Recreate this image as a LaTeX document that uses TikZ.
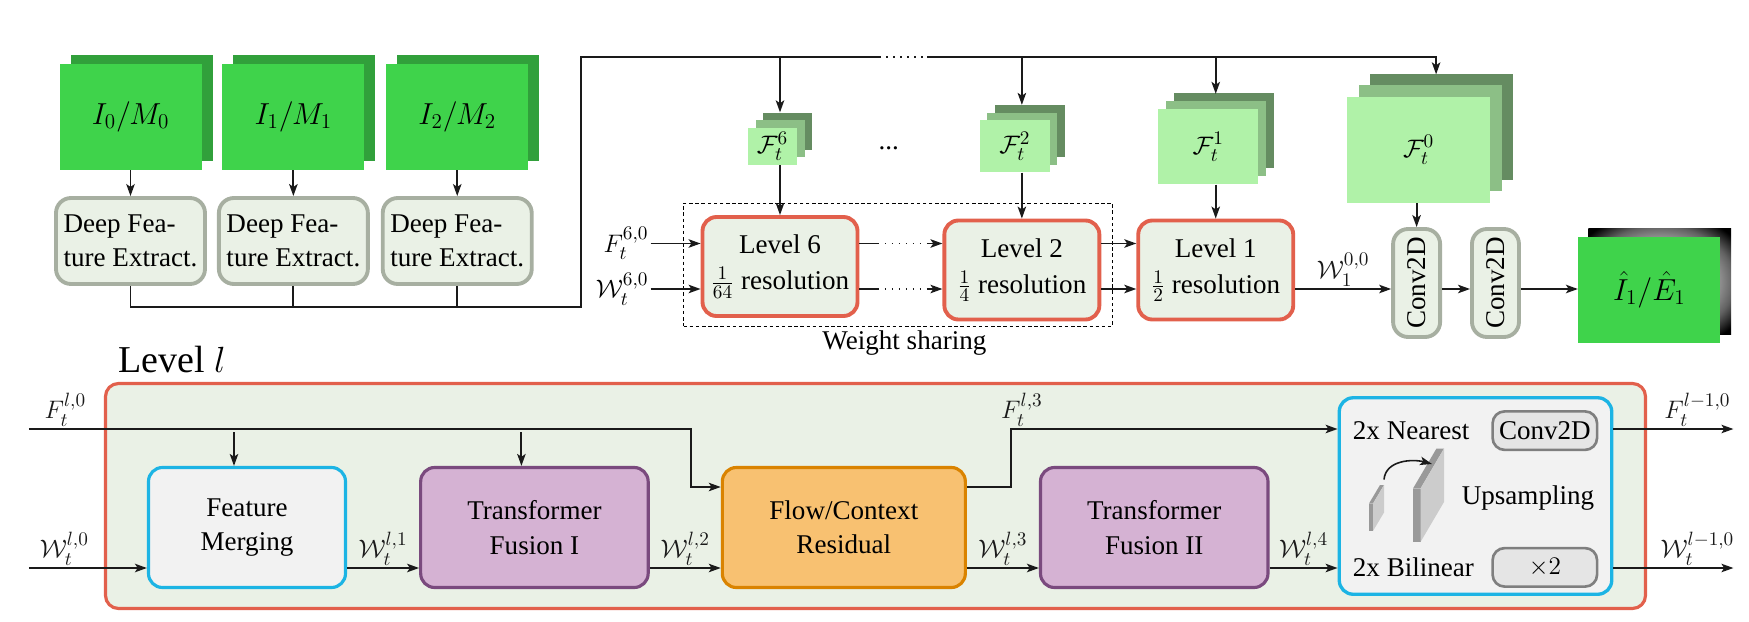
\documentclass[tikz,border=0pt]{standalone}
\usepackage[no-math]{fontspec}
\setmainfont{Liberation Serif}
\usepackage{amsmath,amssymb}
\usepackage{graphicx}
\usetikzlibrary{positioning,arrows.meta,calc,shadows,backgrounds,fit}
\definecolor{sage}{HTML}{EAF1E6}
\definecolor{sagedeep}{HTML}{A7AFA1}
\definecolor{coral}{HTML}{E2604C}
\definecolor{skyline}{HTML}{1CB4E4}
\definecolor{paper}{HTML}{F2F2F2}
\definecolor{plum}{HTML}{7A4A7E}
\definecolor{plumtint}{HTML}{D5B2D3}
\definecolor{amber}{HTML}{DA8300}
\definecolor{ambertint}{HTML}{F8C171}
\definecolor{leaf}{HTML}{3FD34B}
\definecolor{leafdeep}{HTML}{31A03B}
\definecolor{mint}{HTML}{B0F2A8}
\definecolor{mintmid}{HTML}{8CBF86}
\definecolor{mintdeep}{HTML}{658C61}
\definecolor{ink}{HTML}{1A1A1A}
\definecolor{slate}{HTML}{7F7F7F}
\definecolor{slatetint}{HTML}{E5E5E5}
\pgfdeclareradialshading{glow}{\pgfpointorigin}{color(0bp)=(white!60!black); color(21bp)=(white!56!black); color(26bp)=(white!38!black); color(33bp)=(black); color(50bp)=(black)}
\tikzset{
  dfe/.style={draw=sagedeep, line width=2.2pt, rounded corners=3mm, fill=sage, align=left,
    minimum width=29.8mm, minimum height=17.2mm, inner sep=2pt},
  levelbox/.style={draw=coral, line width=2.2pt, rounded corners=2.8mm, fill=sage, align=center,
    minimum width=31mm, minimum height=19.8mm, inner sep=2pt},
  conv/.style={draw=sagedeep, line width=2.2pt, rounded corners=3mm, fill=sage,
    minimum width=9.4mm, minimum height=21.6mm, inner sep=0pt},
  plate/.style={fill=leaf, minimum width=28.4mm, minimum height=21.2mm, inner sep=0pt,
    font=\fontsize{17pt}{20pt}\selectfont},
  img/.style={plate, copy shadow={fill=leafdeep, draw=none, shadow xshift=2.2mm, shadow yshift=1.8mm}},
  fmap/.style n args={4}{fill=mint, minimum width=#1, minimum height=#2, inner sep=0pt,
    copy shadow={fill=mintdeep, draw=none, shadow xshift=#4, shadow yshift=#4},
    copy shadow={fill=mintmid, draw=none, shadow xshift=#3, shadow yshift=#3}},
  stage/.style={rounded corners=2.8mm, line width=1.8pt, align=center,
    minimum width=#1, minimum height=24mm, inner sep=2pt},
  merge/.style={stage=39.4mm, draw=skyline, fill=paper},
  fuse/.style={stage=45.5mm, draw=plum, fill=plumtint},
  resid/.style={stage=48.6mm, draw=amber, fill=ambertint},
  ups/.style={draw=skyline, fill=paper, rounded corners=2.8mm, line width=1.9pt,
    minimum width=54.5mm, minimum height=39.3mm},
  ibox/.style={draw=slate, fill=slatetint, line width=1.5pt, rounded corners=2.4mm,
    minimum width=20.9mm, minimum height=7.7mm, inner sep=0pt},
  arr/.style={-{Stealth[length=6.8pt,width=4.8pt,inset=1.6pt]}, line width=1.1pt, color=ink},
  wire/.style={line width=1.1pt, color=ink},
  dotline/.style={wire, dash pattern=on .3mm off 1.1mm},
  skipline/.style={dash pattern=on 4mm off 1.1mm on .3mm off 1.1mm on .3mm off 1.1mm on .3mm off 1.1mm
    on .3mm off 1.1mm on .3mm off 1.1mm on .3mm off 1.1mm on 10mm},
  lab/.style={inner sep=1pt},
}
\begin{document}
\begin{tikzpicture}[font=\fontsize{15.4pt}{19.5pt}\selectfont]
  \useasboundingbox (0,0) rectangle (349.8mm,-124.4mm);
  % inputs and feature extraction
  \node[dfe] (dfe0) at (26.1mm,-48.2mm) {Deep Fea-\\ture Extract.};
  \node[dfe, right=2mm of dfe0] (dfe1) {Deep Fea-\\ture Extract.};
  \node[dfe, right=2.2mm of dfe1] (dfe2) {Deep Fea-\\ture Extract.};
  \foreach \i in {0,1,2} {
    \node[img, above=5.2mm of dfe\i] (im\i) {$I_\i/M_\i$};
    \draw[arr] (im\i) -- (dfe\i);
  }
  % pyramid levels
  \node[levelbox] (lv6) at (156mm,-53.3mm) {Level 6\\[1pt]$\frac{1}{64}$ resolution};
  \node[levelbox, right=16.6mm of lv6, yshift=-0.7mm] (lv2) {Level 2\\[1pt]$\frac{1}{4}$ resolution};
  \node[levelbox, right=7mm of lv2] (lv1) {Level 1\\[1pt]$\frac{1}{2}$ resolution};
  \node[fmap={9.8mm}{7.4mm}{1.5mm}{3mm}, above=10mm of lv6, xshift=-1.5mm] (f6) {$\mathcal{F}_t^6$};
  \node[fmap={14mm}{10.4mm}{1.5mm}{3mm}, above=9.2mm of lv2, xshift=-1.4mm] (f2) {$\mathcal{F}_t^2$};
  \node[fmap={20mm}{15mm}{1.6mm}{3.2mm}, above=6.8mm of lv1, xshift=-1.5mm] (f1) {$\mathcal{F}_t^1$};
  \node[lab, anchor=base] (dots) at ($(f6.center)!.5!(f2.center)+(-1mm,-0.6mm)$) {...};
  \node[conv, right=19.2mm of lv1, yshift=-2.6mm] (cv1) {\rotatebox{90}{Conv2D}};
  \node[conv, right=5.6mm of cv1] (cv2) {\rotatebox{90}{Conv2D}};
  \node[fmap={28.6mm}{21.2mm}{2.3mm}{4.6mm}, above=4.8mm of cv1, xshift=0.4mm] (f0) {$\mathcal{F}_t^0$};
  \node[plate, right=11.4mm of cv2, yshift=-1.3mm] (out) {$\hat{I}_1/\hat{E}_1$};
  \begin{scope}[on background layer]
    \shade[shading=glow] ($(out.south west)+(2.1mm,1.6mm)$) rectangle ($(out.north east)+(2.1mm,1.6mm)$);
  \end{scope}
  % weight sharing frame
  \coordinate (wsa) at ($(lv6.north west)+(-3.4mm,2.4mm)$);
  \coordinate (wsb) at ($(lv2.south east)+(2.2mm,-1mm)$);
  \node[draw, line width=.6pt, dash pattern=on 2pt off 1.5pt, inner sep=0pt, fit=(wsa)(wsb)] (ws) {};
  \node[lab, below=0.3mm of ws, xshift=1.3mm] (wstxt) {Weight sharing};
  % level inputs and links
  \coordinate (frow) at ($(lv6.center)+(0,4.6mm)$);
  \coordinate (wrow) at ($(lv6.center)+(0,-4.5mm)$);
  \node[lab, anchor=east] (f60) at ($(lv6.west |- frow)+(-10mm,0)$) {$F_t^{6,0}$};
  \node[lab, anchor=east] (w60) at ($(lv6.west |- wrow)+(-10mm,0)$) {$\mathcal{W}_t^{6,0}$};
  \draw[arr] (f60) -- (lv6.west |- frow);
  \draw[arr] (w60) -- (lv6.west |- wrow);
  \foreach \r in {frow,wrow} {
    \draw[arr, skipline] (lv6.east |- \r) -- (lv2.west |- \r);
    \draw[arr] (lv2.east |- \r) -- (lv1.west |- \r);
  }
  \draw[arr] (lv1.east |- wrow) -- node[lab, above] {$\mathcal{W}_1^{0,0}$} (cv1.west |- wrow);
  \draw[arr] (cv1.east |- wrow) -- (cv2.west |- wrow);
  \draw[arr] (cv2.east |- wrow) -- (out.west |- wrow);
  \foreach \f/\l in {f6/lv6, f2/lv2, f1/lv1, f0/cv1}
    \draw[arr] (\f.south -| \l.north) -- (\l.north);
  % feature bus
  \coordinate (bus) at ($(dfe0.south)+(0,-4.2mm)$);
  \coordinate (turn) at ($(lv6.north west)+(-24mm,31.6mm)$);
  \draw[wire] (dfe0.south) |- (bus -| turn) -- (turn) -- ($(lv6.east |- turn)+(4mm,0)$) coordinate (gapl);
  \draw[wire] (dfe1.south) -- (dfe1.south |- bus);
  \draw[wire] (dfe2.south) -- (dfe2.south |- bus);
  \coordinate (gapr) at ($(gapl)+(9.6mm,0)$);
  \draw[dotline] (gapl) -- (gapr);
  \draw[arr] (gapr) -| ($(f0.north)+(3.5mm,4.4mm)$);
  \foreach \f/\l in {f6/lv6, f2/lv2, f1/lv1}
    \draw[arr] (turn -| \l.north) -- ($(\f.north -| \l.north)+(0,3mm)$);

  % one level in detail
  \node[draw=coral, fill=sage, line width=1.8pt, rounded corners=2.6mm, minimum width=308mm,
    minimum height=45mm] (levelframe) at (175.1mm,-99.2mm) {};
  \node[font=\fontsize{21.6pt}{26pt}\selectfont, anchor=base west, inner sep=0pt] (leveltitle)
    at ($(levelframe.north west)+(2.8mm,1.8mm)$) {Level $l$};
  \node[merge, right=8.6mm of levelframe.west, yshift=-6.3mm] (fm) {Feature\\Merging};
  \node[fuse, right=14.4mm of fm] (tf1) {Transformer\\Fusion I};
  \node[resid, right=14.2mm of tf1] (res) {Flow/Context\\Residual};
  \node[fuse, right=14.4mm of res] (tf2) {Transformer\\Fusion II};
  \node[ups, right=13.6mm of tf2, yshift=6.3mm] (up) {};
  \coordinate (lf) at ($(fm.center)+(0,19.7mm)$);
  \coordinate (lw) at ($(fm.center)+(0,-8.1mm)$);
  \coordinate (fin) at ($(levelframe.west |- lf)+(-15mm,0)$);
  \coordinate (win) at ($(levelframe.west |- lw)+(-15mm,0)$);
  \coordinate (jog) at ($(res.west)+(-6mm,8.1mm)$);
  \draw[arr] (fin) -- node[lab, above, pos=.055] {$F_t^{l,0}$} (lf -| jog) -- (jog) -- (res.west |- jog);
  \foreach \b in {fm,tf1}
    \draw[arr, shorten <=0.6mm] ($(\b.north |- lf)+(-2.6mm,0)$) -- ($(\b.north)+(-2.6mm,0)$);
  \draw[arr] (win) -- node[lab, above, pos=.3] {$\mathcal{W}_t^{l,0}$} (fm.west |- lw);
  \foreach \a/\b/\k in {fm/tf1/1, tf1/res/2, res/tf2/3, tf2/up/4}
    \draw[arr] (\a.east |- lw) -- node[lab, above] {$\mathcal{W}_t^{l,\k}$} (\b.west |- lw);
  \draw[arr] ($(res.east)+(0,8.1mm)$) -| ($(res.east |- lf)+(8.8mm,0)$) coordinate (fk)
    node[lab, above, xshift=2.2mm] {$F_t^{l,3}$} -- (up.west |- lf);
  \coordinate (fout) at ($(up.east |- lf)+(24mm,0)$);
  \coordinate (wout) at ($(up.east |- lw)+(24mm,0)$);
  \draw[arr] (up.east |- lf) -- node[lab, above, pos=.7] {$F_t^{l-1,0}$} (fout);
  \draw[arr] (up.east |- lw) -- node[lab, above, pos=.7] {$\mathcal{W}_t^{l-1,0}$} (wout);
  % upsampling block
  \node[ibox, below left=2.8mm and 3mm of up.north east] (ucv) {Conv2D};
  \node[ibox, above left=1.6mm and 3mm of up.south east] (ux2) {$\times 2$};
  \node[inner sep=0pt, anchor=west] (unear) at ($(up.west |- ucv)+(3mm,0)$) {2x Nearest};
  \node[inner sep=0pt, anchor=west] (ubil) at ($(up.west |- ux2)+(3mm,0)$) {2x Bilinear};
  \node[lab] (uname) at ($(up.center)+(10.5mm,-0.4mm)$) {Upsampling};
  \foreach \x/\y/\w/\h/\dx/\dy in {-21.3/-1.5/0.8/5.5/2.2/3.7, -12.5/1.5/1.5/10.7/4.7/8} {
    \begin{scope}[shift={($(up.center)+(\x mm,\y mm)$)}]
      \fill[gray!80] (0,0) rectangle (\w mm,-\h mm);
      \fill[gray!80] (0,0) -- (\dx mm,\dy mm) -- ++(\w mm,0) -- (\w mm,0) -- cycle;
      \fill[gray!40] (\w mm,0) -- ++(\dx mm,\dy mm) -- ++(0,-\h mm) -- (\w mm,-\h mm) -- cycle;
    \end{scope}
  }
  \coordinate (ua) at ($(up.center)+(-18.3mm,3.3mm)$);
  \coordinate (ub) at ($(up.center)+(-8.7mm,6.4mm)$);
  \draw[arr, line width=.9pt] (ua) to[out=85, in=165] (ub);
\end{tikzpicture}
\end{document}
